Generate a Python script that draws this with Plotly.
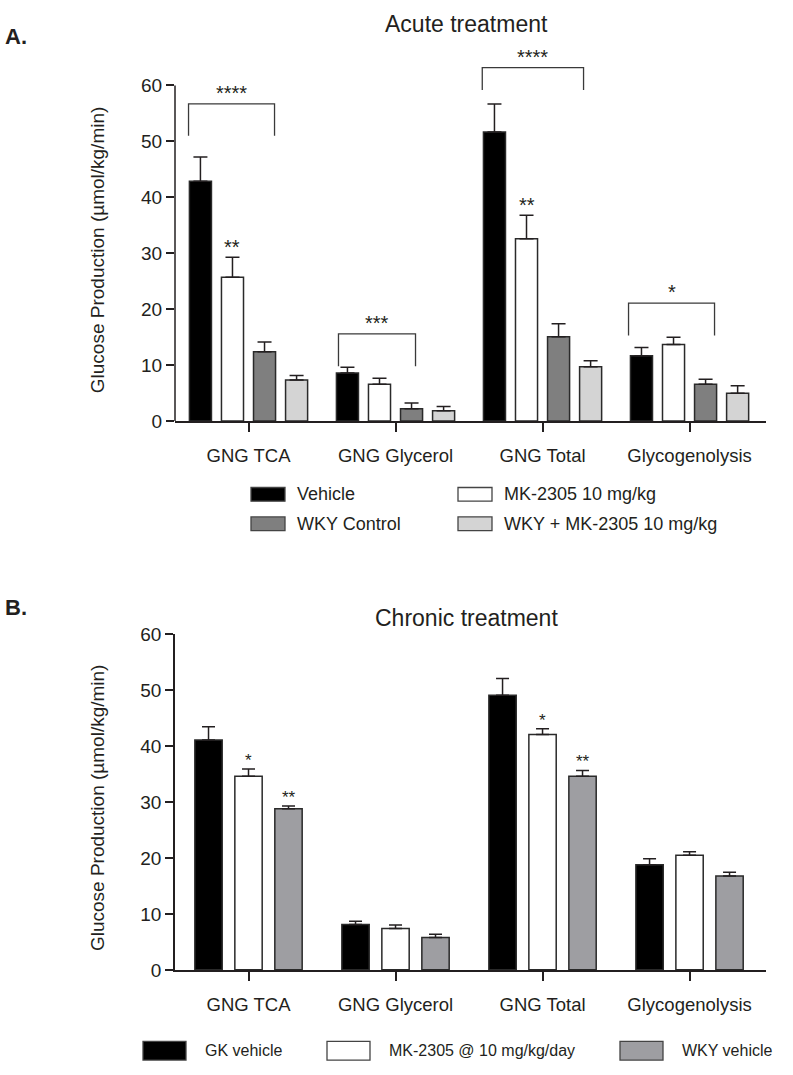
import plotly.graph_objects as go

# ---------------- data ----------------
categories = ["GNG TCA", "GNG Glycerol", "GNG Total", "Glycogenolysis"]

acute_names = ["Vehicle", "MK-2305 10 mg/kg", "WKY Control", "WKY + MK-2305 10 mg/kg"]
acute_vehicle = [42.9, 8.6, 51.7, 11.7]
acute_vehicle_err = [4.3, 1.05, 5.0, 1.45]
acute_mk = [25.7, 6.6, 32.6, 13.7]
acute_mk_err = [3.6, 1.05, 4.2, 1.3]
acute_wky = [12.4, 2.2, 15.1, 6.6]
acute_wky_err = [1.75, 1.05, 2.3, 0.88]
acute_wky_mk = [7.35, 1.86, 9.7, 5.0]
acute_wky_mk_err = [0.8, 0.77, 1.1, 1.3]

chronic_names = ["GK vehicle", "MK-2305 @ 10 mg/kg/day", "WKY vehicle"]
chronic_gk = [41.1, 8.1, 49.1, 18.8]
chronic_gk_err = [2.35, 0.6, 3.0, 1.05]
chronic_mk = [34.6, 7.4, 42.1, 20.5]
chronic_mk_err = [1.3, 0.6, 1.0, 0.6]
chronic_wky = [28.8, 5.8, 34.6, 16.8]
chronic_wky_err = [0.5, 0.55, 1.05, 0.65]

y_ticks = [0, 10, 20, 30, 40, 50, 60]

# significance marks: (category index, series index, label)
acute_stars = [(0, 1, "**"), (2, 1, "**")]
chronic_stars = [(0, 1, "*"), (0, 2, "**"), (2, 1, "*"), (2, 2, "**")]
# brackets over groups (category, left offset, right offset, top, leg bottom, label)
acute_brackets = [
    (0, -0.408, 0.177, 56.7, 51.0, "****"),
    (1, -0.388, 0.136, 15.6, 9.8, "***"),
    (2, -0.410, 0.279, 63.2, 59.2, "****"),
    (3, -0.415, 0.170, 21.1, 15.3, "*"),
]

# ---------------- styling ----------------
W, H = 793, 1075
FONT = "Liberation Sans, Arial, sans-serif"
TXT = "#231f20"
EDGE = "#2a2a2a"
acute_colors = ["#000000", "#ffffff", "#7f7f7f", "#d4d4d4"]
chronic_colors = ["#000000", "#ffffff", "#9e9ea2"]


def px(x):
    return x / W


def py(y):
    return 1 - y / H


fig = go.Figure()

x_pos = list(range(len(categories)))

# Panel A bars
acute_vals = [acute_vehicle, acute_mk, acute_wky, acute_wky_mk]
acute_errs = [acute_vehicle_err, acute_mk_err, acute_wky_err, acute_wky_mk_err]
a_pitch, a_width = 0.218, 0.15
for i, (name, vals, errs, col) in enumerate(zip(acute_names, acute_vals, acute_errs, acute_colors)):
    center = (i - 1.5) * a_pitch
    fig.add_trace(go.Bar(
        x=x_pos, y=vals, name=name, width=a_width, offset=center - a_width / 2,
        marker=dict(color=col, line=dict(color=EDGE, width=1.5)),
        error_y=dict(type="data", symmetric=False, array=errs, arrayminus=[0] * len(errs),
                     color=TXT, thickness=1.5, width=7),
        xaxis="x", yaxis="y", showlegend=False,
    ))

# Panel B bars
chronic_vals = [chronic_gk, chronic_mk, chronic_wky]
chronic_errs = [chronic_gk_err, chronic_mk_err, chronic_wky_err]
b_pitch, b_width = 0.272, 0.186
for i, (name, vals, errs, col) in enumerate(zip(chronic_names, chronic_vals, chronic_errs, chronic_colors)):
    center = (i - 1) * b_pitch
    fig.add_trace(go.Bar(
        x=x_pos, y=vals, name=name, width=b_width, offset=center - b_width / 2,
        marker=dict(color=col, line=dict(color=EDGE, width=1.5)),
        error_y=dict(type="data", symmetric=False, array=errs, arrayminus=[0] * len(errs),
                     color=TXT, thickness=1.5, width=6.5),
        xaxis="x2", yaxis="y2", showlegend=False,
    ))

shapes = []
annotations = []

# stars above individual bars
for cat, s, lab in acute_stars:
    top = acute_vals[s][cat] + acute_errs[s][cat]
    annotations.append(dict(x=cat + (s - 1.5) * a_pitch, y=top, xref="x", yref="y", text=lab,
                            showarrow=False, yanchor="bottom", yshift=-3,
                            font=dict(family=FONT, size=20, color=TXT)))
for cat, s, lab in chronic_stars:
    top = chronic_vals[s][cat] + chronic_errs[s][cat]
    annotations.append(dict(x=cat + (s - 1) * b_pitch, y=top, xref="x2", yref="y2", text=lab,
                            showarrow=False, yanchor="bottom", yshift=-3,
                            font=dict(family=FONT, size=17, color=TXT)))

# brackets
for cat, l, r, top, bot, lab in acute_brackets:
    x0, x1 = cat + l, cat + r
    shapes.append(dict(type="path", xref="x", yref="y",
                       path=f"M {x0},{bot} L {x0},{top} L {x1},{top} L {x1},{bot}",
                       line=dict(color="#3a3a3a", width=1.3)))
    annotations.append(dict(x=(x0 + x1) / 2, y=top, xref="x", yref="y", text=lab,
                            showarrow=False, yanchor="bottom", yshift=-2,
                            font=dict(family=FONT, size=20, color=TXT)))

# y axis line of panel A (only up to 60)
shapes.append(dict(type="line", xref="x domain", yref="y", x0=0, x1=0, y0=0, y1=60,
                   line=dict(color=TXT, width=1.5)))

# titles and panel labels
annotations += [
    dict(x=px(467), y=py(14), xref="paper", yref="paper", text="Acute treatment", showarrow=False,
         xanchor="center", yanchor="middle", font=dict(family=FONT, size=23, color=TXT)),
    dict(x=px(467), y=py(620), xref="paper", yref="paper", text="Chronic treatment", showarrow=False,
         xanchor="center", yanchor="middle", font=dict(family=FONT, size=23, color=TXT)),
    dict(x=px(3), y=py(27), xref="paper", yref="paper", text="<b>A.</b>", showarrow=False,
         xanchor="left", yanchor="middle", font=dict(family=FONT, size=22, color=TXT)),
    dict(x=px(3), y=py(609), xref="paper", yref="paper", text="<b>B.</b>", showarrow=False,
         xanchor="left", yanchor="middle", font=dict(family=FONT, size=22, color=TXT)),
    dict(x=px(97), y=py(245), xref="paper", yref="paper", text="Glucose Production (µmol/kg/min)",
         showarrow=False, textangle=-90, xanchor="center", yanchor="middle",
         font=dict(family=FONT, size=19, color=TXT)),
    dict(x=px(97), y=py(814), xref="paper", yref="paper", text="Glucose Production (µmol/kg/min)",
         showarrow=False, textangle=-90, xanchor="center", yanchor="middle",
         font=dict(family=FONT, size=19, color=TXT)),
]

# legend A (2 x 2)
legA_pos = [(251, 494), (458, 494), (251, 524), (458, 524)]
for (lx, ly), name, col in zip(legA_pos, acute_names, acute_colors):
    shapes.append(dict(type="rect", xref="paper", yref="paper", x0=px(lx), x1=px(lx + 34),
                       y0=py(ly - 7), y1=py(ly + 7), fillcolor=col, line=dict(color="#444", width=1.3)))
    annotations.append(dict(x=px(lx + 44), y=py(ly), xref="paper", yref="paper", text=name,
                            showarrow=False, xanchor="left", yanchor="middle",
                            font=dict(family=FONT, size=18, color=TXT)))

# legend B (one row)
legB_pos = [143, 327, 620]
for lx, name, col in zip(legB_pos, chronic_names, chronic_colors):
    shapes.append(dict(type="rect", xref="paper", yref="paper", x0=px(lx), x1=px(lx + 43),
                       y0=py(1052), y1=py(1071), fillcolor=col, line=dict(color="#444", width=1.3)))
    annotations.append(dict(x=px(lx + 60), y=py(1061), xref="paper", yref="paper", text=name,
                            showarrow=False, xanchor="left", yanchor="middle",
                            font=dict(family=FONT, size=16, color=TXT)))

xaxis_common = dict(
    range=[-0.5, 3.52], tickmode="array", tickvals=x_pos, ticktext=categories,
    ticks="outside", ticklen=9, tickwidth=1.5, tickcolor=TXT,
    showline=True, linecolor=TXT, linewidth=1.5, showgrid=False, zeroline=False,
    tickfont=dict(family=FONT, size=18.5, color=TXT), ticklabelstandoff=8, fixedrange=True,
)
yaxis_common = dict(
    tickmode="array", tickvals=y_ticks, ticks="outside", ticklen=8, tickwidth=1.5, tickcolor=TXT,
    showgrid=False, zeroline=False, tickfont=dict(family=FONT, size=19, color=TXT), fixedrange=True,
)

fig.update_layout(
    width=W, height=H, margin=dict(l=0, r=0, t=0, b=0),
    paper_bgcolor="white", plot_bgcolor="white", barmode="overlay",
    font=dict(family=FONT, color=TXT),
    xaxis=dict(domain=[px(175), px(766)], anchor="y", **xaxis_common),
    yaxis=dict(domain=[py(419.3), py(419.3 - 68 * 5.705)], anchor="x", range=[0, 68],
               showline=False, **yaxis_common),
    xaxis2=dict(domain=[px(175), px(766)], anchor="y2", **xaxis_common),
    yaxis2=dict(domain=[py(979), py(636.7)], anchor="x2", range=[0, 60],
                showline=True, linecolor=TXT, linewidth=1.5, **yaxis_common),
    shapes=shapes, annotations=annotations, showlegend=False,
)

fig.write_html(
    "out.html",
    config={"displayModeBar": False},
    post_script="document.body.style.margin='0';document.body.style.overflow='hidden';",
)
